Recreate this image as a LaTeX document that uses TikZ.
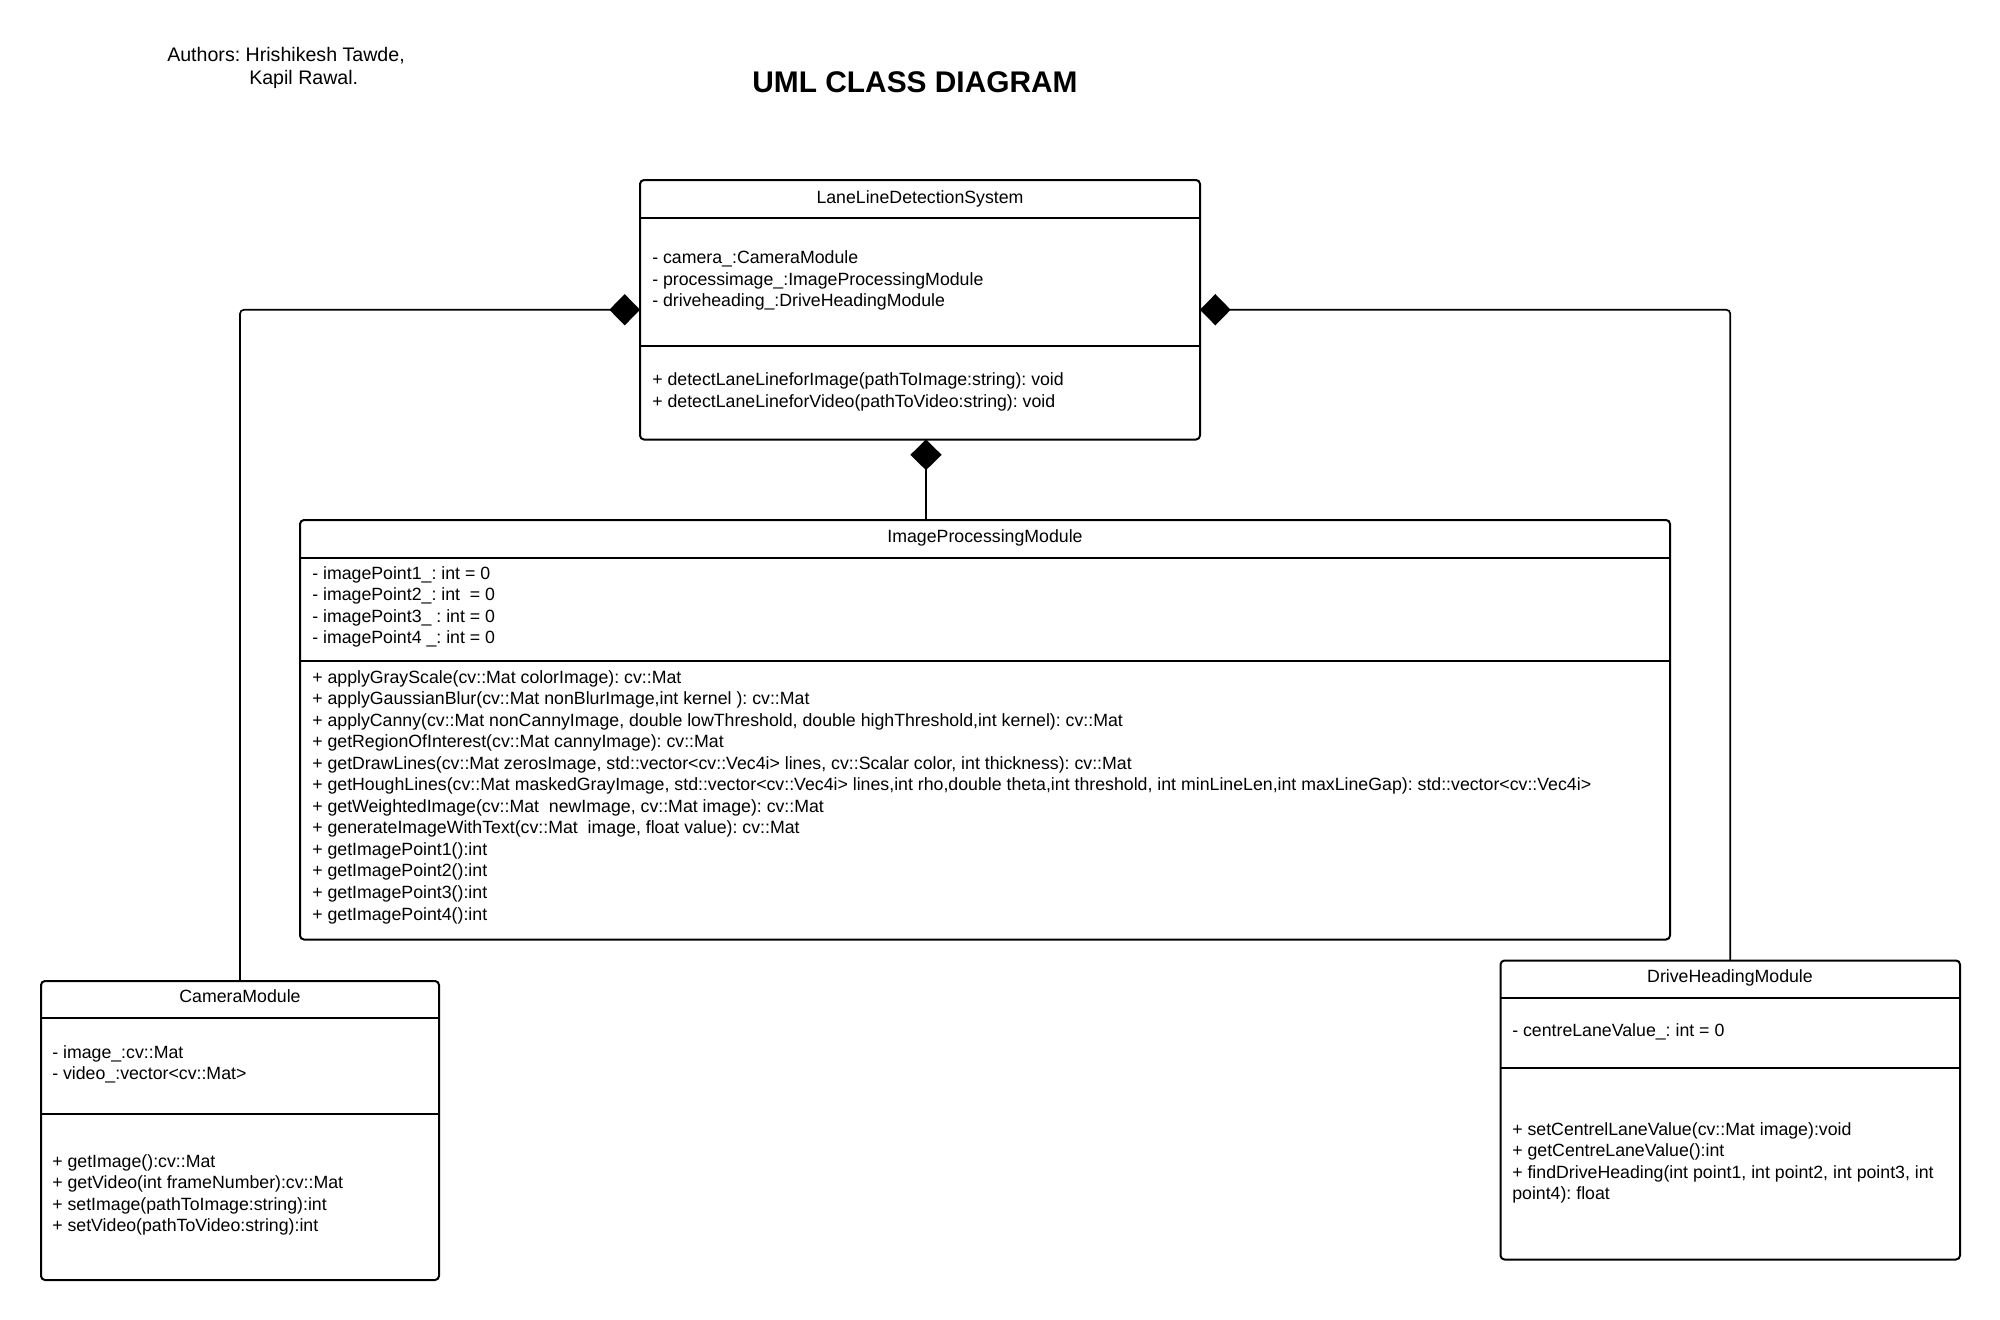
\documentclass[tikz,border=0pt]{standalone}
\usepackage{fontspec}
\setmainfont{Liberation Sans}
\usetikzlibrary{arrows.meta,fit}
\frenchspacing
\newcommand{\bodyfnt}{\fontsize{13.3pt}{16.2pt}\selectfont}
\begin{document}
\begin{tikzpicture}[x=0.75pt,y=-0.75pt,
  umlbox/.style={draw, line width=1.5pt, rounded corners=3pt, inner sep=0pt, outer sep=0pt},
  divider/.style={line width=1.5pt},
  comp/.style={line width=1.25pt, rounded corners=3pt, arrows={Diamond[length=23pt,width=23.5pt]-}},
  txt/.style={anchor=base west, inner sep=0pt, font=\bodyfnt},
  ttl/.style={anchor=base, inner sep=0pt, font=\bodyfnt},
]
\useasboundingbox (0,0) rectangle (2000,1320);
\fill[white] (0,0) rectangle (2000,1320);

% header texts
\node[anchor=base west, inner sep=0pt, font=\fontsize{14.7pt}{17pt}\selectfont] (auth1) at (167,61.7) {Authors: Hrishikesh Tawde,};
\node[anchor=base west, inner sep=0pt, font=\fontsize{14.7pt}{17pt}\selectfont] (auth2) at (249,84.3) {Kapil Rawal.};
\node[anchor=base, inner sep=0pt, font=\fontsize{22.4pt}{26pt}\selectfont\bfseries] (title) at (915,92.3) {UML CLASS DIAGRAM};

% LaneLineDetectionSystem
\node[umlbox, fit={(640,180) (1200,439.5)}] (llds) {};
\draw[divider] (llds.west |- 0,218) -- (llds.east |- 0,218);
\draw[divider] (llds.west |- 0,346) -- (llds.east |- 0,346);
\node[ttl] (lldsT) at (920,203) {LaneLineDetectionSystem};
\node[txt] (lldsA1) at (652,263.5) {- camera\_:CameraModule};
\node[txt] (lldsA2) at (652,285.1) {- processimage\_:ImageProcessingModule};
\node[txt] (lldsA3) at (652,306.7) {- driveheading\_:DriveHeadingModule};
\node[txt] (lldsM1) at (652,385.7) {+ detectLaneLineforImage(pathToImage:string): void};
\node[txt] (lldsM2) at (652,407.3) {+ detectLaneLineforVideo(pathToVideo:string): void};

% ImageProcessingModule
\node[umlbox, fit={(300,520) (1670,939.5)}] (ipm) {};
\draw[divider] (ipm.west |- 0,557.5) -- (ipm.east |- 0,557.5);
\draw[divider] (ipm.west |- 0,660.5) -- (ipm.east |- 0,660.5);
\node[ttl] (ipmT) at (985,542) {ImageProcessingModule};
\node[txt] (ipmA1) at (312,579.3) {- imagePoint1\_: int = 0};
\node[txt] (ipmA2) at (312,600.7) {- imagePoint2\_: int\ \ = 0};
\node[txt] (ipmA3) at (312,622.1) {- imagePoint3\_ : int = 0};
\node[txt] (ipmA4) at (312,643.5) {- imagePoint4 \_: int = 0};
\node[txt] (ipmM1) at (312,683.0) {+ applyGrayScale(cv::Mat colorImage): cv::Mat};
\node[txt] (ipmM2) at (312,704.55) {+ applyGaussianBlur(cv::Mat nonBlurImage,int kernel ): cv::Mat};
\node[txt] (ipmM3) at (312,726.1) {+ applyCanny(cv::Mat nonCannyImage, double lowThreshold, double highThreshold,int kernel): cv::Mat};
\node[txt] (ipmM4) at (312,747.65) {+ getRegionOfInterest(cv::Mat cannyImage): cv::Mat};
\node[txt] (ipmM5) at (312,769.2) {+ getDrawLines(cv::Mat zerosImage, std::vector<cv::Vec4i> lines, cv::Scalar color, int thickness): cv::Mat};
\node[txt] (ipmM6) at (312,790.75) {+ getHoughLines(cv::Mat maskedGrayImage, std::vector<cv::Vec4i> lines,int rho,double theta,int threshold, int minLineLen,int maxLineGap): std::vector<cv::Vec4i>};
\node[txt] (ipmM7) at (312,812.3) {+ getWeightedImage(cv::Mat\ \ newImage, cv::Mat image): cv::Mat};
\node[txt] (ipmM8) at (312,833.85) {+ generateImageWithText(cv::Mat\ \ image, float value): cv::Mat};
\node[txt] (ipmM9) at (312,855.4) {+ getImagePoint1():int};
\node[txt] (ipmM10) at (312,876.95) {+ getImagePoint2():int};
\node[txt] (ipmM11) at (312,898.5) {+ getImagePoint3():int};
\node[txt] (ipmM12) at (312,920.05) {+ getImagePoint4():int};

% CameraModule
\node[umlbox, fit={(41,981) (439,1280)}] (cam) {};
\draw[divider] (cam.west |- 0,1017.5) -- (cam.east |- 0,1017.5);
\draw[divider] (cam.west |- 0,1114) -- (cam.east |- 0,1114);
\node[ttl] (camT) at (240,1002) {CameraModule};
\node[txt] (camA1) at (52,1058) {- image\_:cv::Mat};
\node[txt] (camA2) at (52,1079.6) {- video\_:vector<cv::Mat>};
\node[txt] (camM1) at (52,1167) {+ getImage():cv::Mat};
\node[txt] (camM2) at (52,1188.6) {+ getVideo(int frameNumber):cv::Mat};
\node[txt] (camM3) at (52,1210.2) {+ setImage(pathToImage:string):int};
\node[txt] (camM4) at (52,1231.8) {+ setVideo(pathToVideo:string):int};

% DriveHeadingModule
\node[umlbox, fit={(1500.5,960.5) (1960,1259.5)}] (dh) {};
\draw[divider] (dh.west |- 0,998) -- (dh.east |- 0,998);
\draw[divider] (dh.west |- 0,1068) -- (dh.east |- 0,1068);
\node[ttl] (dhT) at (1730,982.7) {DriveHeadingModule};
\node[txt] (dhA1) at (1512,1036) {- centreLaneValue\_: int = 0};
\node[txt] (dhM1) at (1512,1135) {+ setCentrelLaneValue(cv::Mat image):void};
\node[txt] (dhM2) at (1512,1156.6) {+ getCentreLaneValue():int};
\node[txt] (dhM3) at (1512,1178.2) {+ findDriveHeading(int point1, int point2, int point3, int};
\node[txt] (dhM4) at (1512,1199.8) {point4): float};

% composition connectors
\coordinate (lldsagg) at (926,439.5);
\draw[comp] (llds.west) -| (cam.north);
\draw[comp] (llds.east) -| (dh.north);
\draw[comp] (lldsagg) -- (lldsagg |- ipm.north);
\end{tikzpicture}
\end{document}
